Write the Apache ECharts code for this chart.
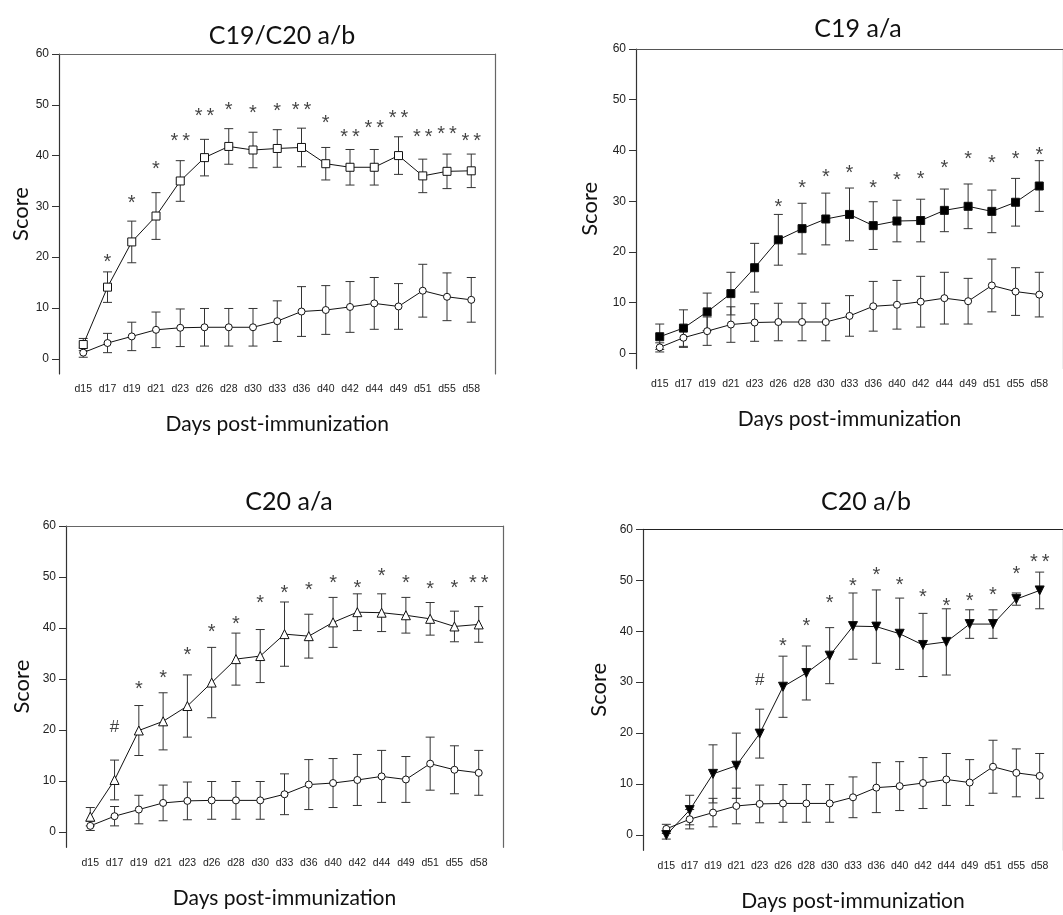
<!DOCTYPE html>
<html><head><meta charset="utf-8">
<script src="https://cdn.jsdelivr.net/npm/echarts@6/dist/echarts.min.js"></script>
<style>html,body{margin:0;padding:0;background:#fff}#c{width:1063px;height:915px}</style>
</head><body><div id="c"></div>
<script>
const days = ['d15','d17','d19','d21','d23','d26','d28','d30','d33','d36','d40','d42','d44','d49','d51','d55','d58'];
const yTicks = [0,10,20,30,40,50,60];

// control group (open circles), same in all panels
const ctrlMean = [1.2, 3.1, 4.4, 5.7, 6.1, 6.2, 6.2, 6.2, 7.4, 9.3, 9.6, 10.2, 10.9, 10.3, 13.4, 12.2, 11.6];
const ctrlErr  = [0.9, 1.9, 2.8, 3.5, 3.7, 3.7, 3.7, 3.7, 4.0, 4.9, 4.8, 5.0, 5.1, 4.5, 5.2, 4.7, 4.4];

// C19/C20 a/b (open squares)
const aMean = [2.8, 14.1, 23.0, 28.1, 35.0, 39.6, 41.8, 41.1, 41.4, 41.6, 38.4, 37.7, 37.7, 40.0, 36.0, 36.9, 37.0];
const aErr  = [1.2, 3.0, 4.1, 4.6, 4.0, 3.6, 3.5, 3.5, 3.7, 3.8, 3.2, 3.5, 3.5, 3.7, 3.3, 3.4, 3.3];
const aSig  = ['', '*', '*', '*', '**', '**', '*', '*', '*', '**', '*', '**', '**', '**', '**', '**', '**'];
const aSigY = [null, 19.8, 31.4, 38.1, 43.6, 48.5, 49.7, 49.0, 49.5, 49.7, 47.2, 44.4, 46.2, 48.0, 44.4, 45.0, 43.6];

// C19 a/a (filled squares)
const bMean = [3.3, 5.0, 8.2, 11.8, 16.9, 22.4, 24.6, 26.5, 27.4, 25.2, 26.1, 26.2, 28.2, 29.0, 28.0, 29.8, 33.0];
const bErr  = [2.5, 3.6, 3.7, 4.2, 4.8, 5.0, 5.0, 5.1, 5.2, 4.7, 4.1, 4.2, 4.2, 4.4, 4.2, 4.7, 5.0];
const bSig  = ['', '', '', '', '', '*', '*', '*', '*', '*', '*', '*', '*', '*', '*', '*', '*'];
const bSigY = [null, null, null, null, null, 29.6, 33.4, 35.4, 36.2, 33.4, 34.8, 35.0, 37.3, 39.1, 38.3, 39.1, 39.8];

// C20 a/a (open triangles)
const cMean = [3.0, 10.2, 19.9, 21.7, 24.7, 29.3, 33.9, 34.5, 38.8, 38.4, 41.1, 43.1, 43.0, 42.5, 41.8, 40.3, 40.7];
const cErr  = [1.8, 3.9, 4.9, 5.6, 6.1, 6.9, 5.1, 5.2, 6.3, 4.3, 4.9, 3.6, 3.7, 3.5, 3.2, 3.0, 3.5];
const cSig  = ['', '#', '*', '*', '*', '*', '*', '*', '*', '*', '*', '*', '*', '*', '*', '*', '**'];
const cSigY = [null, 20.6, 28.8, 30.9, 35.4, 39.9, 41.4, 45.5, 47.6, 48.2, 49.5, 48.6, 50.9, 49.5, 48.4, 48.6, 49.5];

// C20 a/b (filled inverted triangles)
const dMean = [0.0, 4.9, 12.0, 13.6, 19.9, 29.1, 31.8, 35.2, 41.0, 40.9, 39.5, 37.3, 37.9, 41.4, 41.4, 46.3, 48.0];
const dErr  = [0.8, 2.9, 5.7, 6.4, 4.8, 6.0, 5.3, 5.5, 6.5, 7.2, 7.0, 6.2, 6.5, 2.8, 2.8, 1.2, 3.6];
const dSig  = ['', '', '', '', '#', '*', '*', '*', '*', '*', '*', '*', '*', '*', '*', '*', '**'];
const dSigY = [null, null, null, null, 30.3, 37.7, 41.7, 46.3, 49.6, 51.8, 49.7, 47.4, 45.6, 46.6, 47.8, 51.9, 54.2];

const panels = [
  {title:'C19/C20 a/b', mean:aMean, err:aErr, sig:aSig, sigY:aSigY, symbol:'rect', size:8, fill:'#fff', rot:0,
   grid:{left:59, top:54, width:436.5, height:320}, tx:277, ty:31, xGap:40, yGap:26, frame:'#666'},
  {title:'C19 a/a', mean:bMean, err:bErr, sig:bSig, sigY:bSigY, symbol:'rect', size:8, fill:'#000', rot:0,
   grid:{left:636, top:49, width:436, height:319.7}, tx:853, ty:24, xGap:40, yGap:35, frame:'#555'},
  {title:'C20 a/a', mean:cMean, err:cErr, sig:cSig, sigY:cSigY, symbol:'triangle', size:9, fill:'#fff', rot:0,
   grid:{left:66, top:526, width:437, height:321.3}, tx:284, ty:497, xGap:40, yGap:33, frame:'#666'},
  {title:'C20 a/b', mean:dMean, err:dErr, sig:dSig, sigY:dSigY, symbol:'triangle', size:9, fill:'#000', rot:180,
   grid:{left:643, top:529.3, width:437, height:321}, tx:861, ty:497, xGap:40, yGap:33, frame:'#222'}
];

function errItem(params, api) {
  const x = api.value(0), m = api.value(1), e = api.value(2);
  const t = api.coord([x, m + e]), b = api.coord([x, m - e]);
  const cw = 4.5, st = {stroke:'#333', lineWidth:1};
  return {type:'group', children:[
    {type:'line', shape:{x1:t[0], y1:t[1], x2:b[0], y2:b[1]}, style:st},
    {type:'line', shape:{x1:t[0]-cw, y1:t[1], x2:t[0]+cw, y2:t[1]}, style:st},
    {type:'line', shape:{x1:b[0]-cw, y1:b[1], x2:b[0]+cw, y2:b[1]}, style:st}
  ]};
}

const grid = [], xAxis = [], yAxis = [], series = [], title = [];
const idx = days.map((d, i) => i);
panels.forEach((p, k) => {
  grid.push(Object.assign({containLabel:false}, p.grid));
  title.push({text:p.title, left:p.tx, top:p.ty, textAlign:'center', textVerticalAlign:'middle',
    textStyle:{fontFamily:'Lato', fontWeight:'normal', fontSize:25, color:'#111'}});
  xAxis.push({gridIndex:k, type:'value', min:-1, max:17, position:'bottom',
    axisLine:{show:false, onZero:false}, axisTick:{show:false}, splitLine:{show:false},
    axisLabel:{customValues:idx, formatter:v => days[Math.round(v)], fontSize:10.5, color:'#222',
      fontFamily:'Liberation Sans', margin:10},
    name:'Days post-immunization', nameLocation:'middle', nameGap:p.xGap,
    nameTextStyle:{fontFamily:'Lato', fontSize:21, color:'#111'}});
  xAxis.push({gridIndex:k, type:'value', min:-1, max:17, position:'top',
    axisLine:{show:true, onZero:false, lineStyle:{color:p.frame, width:1.2}}, axisTick:{show:false},
    axisLabel:{show:false}, splitLine:{show:false}});
  yAxis.push({gridIndex:k, type:'value', min:-3, max:60, position:'left',
    axisLine:{show:true, onZero:false, lineStyle:{color:'#333', width:1.2}},
    axisTick:{show:true, customValues:yTicks, length:7, lineStyle:{color:'#333'}},
    axisLabel:{customValues:yTicks, fontSize:12, color:'#222', fontFamily:'Liberation Sans', margin:10},
    splitLine:{show:false},
    name:'Score', nameLocation:'middle', nameGap:p.yGap, nameRotate:90,
    nameTextStyle:{fontFamily:'Lato', fontSize:22, color:'#111'}});
  yAxis.push({gridIndex:k, type:'value', min:-3, max:60, position:'right',
    axisLine:{show:true, onZero:false, lineStyle:{color:p.frame, width:1.2}}, axisTick:{show:false},
    axisLabel:{show:false}, splitLine:{show:false}});
  const xi = 2*k, yi = 2*k;
  series.push({type:'custom', xAxisIndex:xi, yAxisIndex:yi, renderItem:errItem, z:2, clip:false,
    data: ctrlMean.map((m, i) => [i, m, ctrlErr[i]])});
  series.push({type:'custom', xAxisIndex:xi, yAxisIndex:yi, renderItem:errItem, z:2, clip:false,
    data: p.mean.map((m, i) => [i, m, p.err[i]])});
  series.push({type:'line', xAxisIndex:xi, yAxisIndex:yi, z:3, symbol:'circle', symbolSize:7,
    lineStyle:{color:'#111', width:1}, itemStyle:{color:'#fff', borderColor:'#111', borderWidth:1},
    data: ctrlMean.map((m, i) => [i, m]), animation:false});
  series.push({type:'line', xAxisIndex:xi, yAxisIndex:yi, z:4, symbol:p.symbol, symbolSize:p.size, symbolRotate:p.rot,
    lineStyle:{color:'#111', width:1}, itemStyle:{color:p.fill, borderColor:'#111', borderWidth:1},
    data: p.mean.map((m, i) => [i, m]), animation:false});
  const ann = [];
  p.sig.forEach((s, i) => { if (s) ann.push({name: s === '**' ? '*\u2009*' : s, value:[i, p.sigY[i]],
    label:{offset:[0, s === '#' ? 0 : 4], fontSize: s === '#' ? 17 : 20}}); });
  series.push({type:'scatter', xAxisIndex:xi, yAxisIndex:yi, z:5, symbolSize:1,
    itemStyle:{color:'rgba(0,0,0,0)'}, silent:true, animation:false,
    label:{show:true, position:'inside', formatter:'{b}', fontFamily:'Liberation Sans',
      fontSize:20, color:'#111', align:'center', verticalAlign:'middle'},
    data: ann});
});

const chart = echarts.init(document.getElementById('c'), null, {renderer:'canvas'});
chart.setOption({animation:false, backgroundColor:'#fff', title, grid, xAxis, yAxis, series});
</script></body></html>
